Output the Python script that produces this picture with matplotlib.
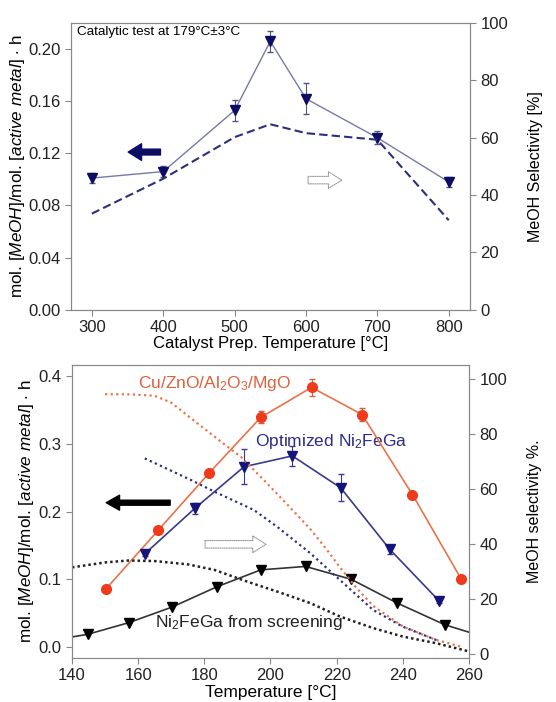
import matplotlib
matplotlib.use('Agg')
import matplotlib.pyplot as plt
from matplotlib.patches import FancyArrowPatch

# === Fuente tipo Arial ===
plt.rcParams['font.family'] = ['Liberation Sans', 'DejaVu Sans']
plt.rcParams['mathtext.fontset'] = 'custom'
plt.rcParams['mathtext.rm'] = 'Liberation Sans'
plt.rcParams['mathtext.it'] = 'Liberation Sans:italic'

# === Datos panel superior ===
prep_temp = [300, 400, 500, 550, 600, 700, 800]
prep_rate = [0.101, 0.106, 0.153, 0.206, 0.162, 0.132, 0.098]
prep_err = [0.004, 0.004, 0.008, 0.008, 0.012, 0.005, 0.004]
prep_sel = [33.5, 45.7, 60.2, 64.7, 61.6, 59.3, 31.2]

# === Datos panel inferior ===
cu_temp = [150.3, 166.0, 181.5, 197.1, 212.4, 227.7, 242.9, 257.7]
cu_rate = [0.086, 0.172, 0.257, 0.339, 0.383, 0.343, 0.225, 0.100]
cu_err = [0.0, 0.0, 0.003, 0.009, 0.012, 0.010, 0.0, 0.0]
cu_sel_temp = [150, 158, 165, 170, 176, 185, 191, 198, 205, 212, 217, 221, 226, 231, 240, 250, 258]
cu_sel = [94.6, 94.5, 94.0, 91.5, 85.8, 77.3, 71.8, 63.3, 54.5, 45.5, 38.0, 31.5, 24.0, 17.5, 10.0, 5.1, 2.5]

opt_temp = [162.1, 177.2, 192.0, 206.6, 221.2, 236.1, 251.0]
opt_rate = [0.138, 0.205, 0.266, 0.282, 0.235, 0.144, 0.068]
opt_err = [0.004, 0.008, 0.026, 0.015, 0.020, 0.007, 0.003]
opt_sel_temp = [162, 176, 183, 195, 202, 212, 221, 231, 240, 250, 251]
opt_sel = [71.2, 63.3, 59.1, 52.4, 46.3, 36.7, 26.9, 16.0, 9.9, 5.1, 4.6]

scr_temp = [144.8, 157.1, 170.2, 183.8, 197.1, 210.6, 224.4, 238.3, 252.7]
scr_rate = [0.019, 0.036, 0.059, 0.089, 0.114, 0.119, 0.100, 0.065, 0.033]
scr_line_temp = [140] + scr_temp + [260]
scr_line_rate = [0.015] + scr_rate + [0.022]
scr_sel_temp = [140, 150, 157, 165, 175, 183, 193, 202, 212, 221, 231, 240, 250, 260]
scr_sel = [31.5, 33.3, 34.0, 33.8, 32.6, 30.6, 26.3, 22.7, 18.5, 13.6, 9.4, 6.3, 3.9, 0.9]

ylabel_rate = r'mol. [$\mathit{MeOH}$]/mol. [$\mathit{active\ metal}$] $\cdot$ h'
GRIS = '#888888'


def estilo(ax, ax2):
    for a in (ax, ax2):
        for s in a.spines.values():
            s.set_color(GRIS)
        a.tick_params(colors=GRIS, labelcolor='#222222', labelsize=12, length=4, direction='out')


fig = plt.figure(figsize=(5.56, 7.02), dpi=100)

# === Panel superior ===
ax1 = fig.add_axes([0.128, 0.559, 0.7176, 0.408])
ax1b = ax1.twinx()
ax1.errorbar(prep_temp, prep_rate, yerr=prep_err, color='#7878aa', lw=1.0,
             marker='v', ms=7, mfc='#0d0d66', mec='#0d0d66',
             ecolor='#555577', elinewidth=0.8, capsize=2, zorder=3)
ax1b.plot(prep_temp, prep_sel, color='#2e2e7e', lw=1.5, ls=(0, (4, 2)))
ax1.set_xlim(271, 830)
ax1.set_ylim(0, 0.22)
ax1b.set_ylim(0, 100)
ax1.set_xticks([300, 400, 500, 600, 700, 800])
ax1.set_yticks([0.0, 0.04, 0.08, 0.12, 0.16, 0.20])
ax1.set_yticklabels(['0.00', '0.04', '0.08', '0.12', '0.16', '0.20'])
ax1b.set_yticks([0, 20, 40, 60, 80, 100])
ax1.set_xlabel('Catalyst Prep. Temperature [°C]', fontsize=12, labelpad=1)
ax1.set_ylabel(ylabel_rate, fontsize=12.3, labelpad=1)
ax1b.set_ylabel('MeOH Selectivity [%]', fontsize=11.5, labelpad=14)
estilo(ax1, ax1b)
ax1.text(0.015, 0.968, 'Catalytic test at 179°C±3°C', transform=ax1.transAxes,
         fontsize=9.7, va='center', ha='left')
ax1.add_patch(FancyArrowPatch((400, 0.121), (347, 0.121), mutation_scale=12,
                              arrowstyle='simple,head_length=0.8,head_width=1.0,tail_width=0.35',
                              fc='#0d0d66', ec='#0d0d66'))
ax1b.add_patch(FancyArrowPatch((599, 45.2), (654, 45.2), mutation_scale=12,
                               arrowstyle='simple,head_length=0.8,head_width=1.0,tail_width=0.45',
                               fc='white', ec='#999999', lw=0.8, ls=(0, (1, 1))))

# === Panel inferior ===
ax2 = fig.add_axes([0.1295, 0.0627, 0.714, 0.4173])
ax2b = ax2.twinx()
ax2b.plot(cu_sel_temp, cu_sel, color='#e8764e', lw=1.6, ls=(0, (1, 1.5)))
ax2b.plot(opt_sel_temp, opt_sel, color='#2e2e86', lw=1.6, ls=(0, (1, 1.5)))
ax2b.plot(scr_sel_temp, scr_sel, color='#222222', lw=1.8, ls=(0, (1, 1.2)))
ax2.errorbar(cu_temp, cu_rate, yerr=cu_err, color='#e8734a', lw=1.2,
             marker='o', ms=7, mfc='#f03a1c', mec='#f03a1c',
             ecolor='#d06040', elinewidth=0.8, capsize=2, zorder=3)
ax2.errorbar(opt_temp, opt_rate, yerr=opt_err, color='#3a3a8c', lw=1.2,
             marker='v', ms=7, mfc='#14147a', mec='#14147a',
             ecolor='#3a3a8c', elinewidth=0.8, capsize=2, zorder=3)
ax2.plot(scr_line_temp, scr_line_rate, color='#333333', lw=1.2, zorder=3)
ax2.plot(scr_temp, scr_rate, ls='none', marker='v', ms=7, color='black', zorder=4)
ax2.set_xlim(140, 260)
ax2.set_ylim(-0.016, 0.416)
ax2b.set_ylim(-1.5, 105.2)
ax2.set_xticks([140, 160, 180, 200, 220, 240, 260])
ax2.set_yticks([0.0, 0.1, 0.2, 0.3, 0.4])
ax2b.set_yticks([0, 20, 40, 60, 80, 100])
ax2.set_xlabel('Temperature [°C]', fontsize=12.5, labelpad=1)
ax2.set_ylabel(ylabel_rate, fontsize=12.3, labelpad=2)
ax2b.set_ylabel('MeOH selectivity %.', fontsize=11.5, labelpad=14)
estilo(ax2, ax2b)
ax2.text(160, 0.389, r'Cu/ZnO/Al$_2$O$_3$/MgO', color='#e0603a', fontsize=12.5, va='center')
ax2.text(195.2, 0.303, r'Optimized Ni$_2$FeGa', color='#2b2b8a', fontsize=12.5, va='center')
ax2.text(165.0, 0.036, r'Ni$_2$FeGa from screening', color='#222222', fontsize=12.5, va='center')
ax2.add_patch(FancyArrowPatch((170.5, 0.213), (149.5, 0.213), mutation_scale=12,
                              arrowstyle='simple,head_length=0.8,head_width=0.9,tail_width=0.3',
                              fc='black', ec='black'))
ax2b.add_patch(FancyArrowPatch((179.4, 39.9), (199.5, 39.9), mutation_scale=12,
                               arrowstyle='simple,head_length=0.8,head_width=1.0,tail_width=0.45',
                               fc='white', ec='#999999', lw=0.8, ls=(0, (1, 1))))

plt.savefig('out.png', dpi=100)
